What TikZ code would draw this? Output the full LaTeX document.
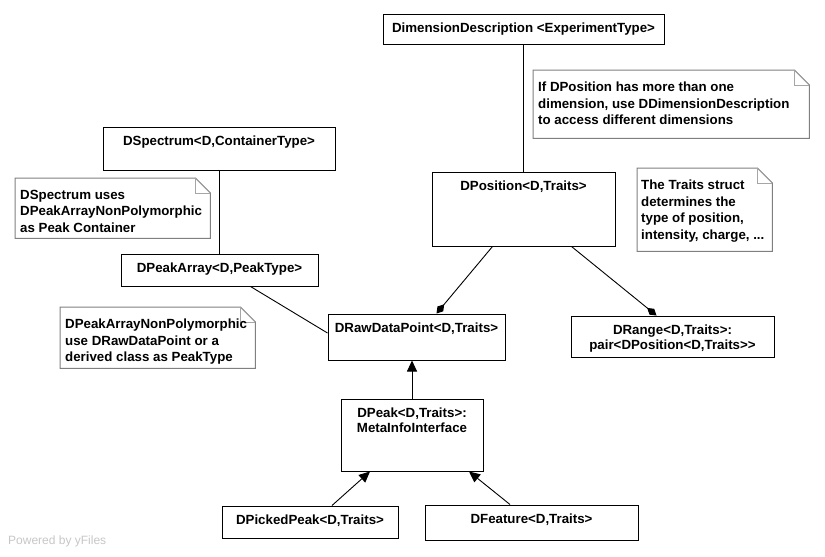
\documentclass[tikz,border=0pt]{standalone}
\usepackage{fontspec}
\setmainfont{Liberation Sans}
\usetikzlibrary{arrows.meta,calc}
\begin{document}
\begin{tikzpicture}[x=1pt,y=-1pt,
  box/.style={draw=black, line width=1pt, fill=white, inner sep=0pt},
  btxt/.style={anchor=north, inner sep=0pt, yshift=-9pt, align=center, font=\fontsize{13.3}{15}\selectfont\bfseries},
  nbox/.style={inner sep=0pt, anchor=north west},
  ntxt/.style={anchor=north west, inner sep=0pt, xshift=5pt, yshift=-12pt, align=left, font=\fontsize{13.3}{16.5}\selectfont\bfseries},
  nline/.style={draw=black!50, line width=1pt},
  nfold/.style={draw=black!35, line width=0.8pt},
  plain/.style={draw=black, line width=0.9pt},
  agg/.style={plain, -{Diamond[length=12pt,width=7.5pt]}},
  inh/.style={plain, -{Triangle[length=11pt,width=10pt]}},
]
\useasboundingbox (0,0) rectangle (825,557);
\fill[white] (0,0) rectangle (825,557);

% class boxes
\node[box, minimum width=281, minimum height=30, label={[btxt]north:{DimensionDescription <ExperimentType>}}] (dimdesc) at (523.5,29) {};
\node[box, minimum width=232, minimum height=43, label={[btxt]north:{DSpectrum<D,ContainerType>}}] (dspec) at (219,148.5) {};
\node[box, minimum width=183, minimum height=74, label={[btxt]north:{DPosition<D,Traits>}}] (dpos) at (523.5,209) {};
\node[box, minimum width=197, minimum height=32, label={[btxt]north:{DPeakArray<D,PeakType>}}] (dpeakarr) at (219.5,270) {};
\node[box, minimum width=177, minimum height=46, label={[btxt]north:{DRawDataPoint<D,Traits>}}] (drawdata) at (416.5,337) {};
\node[box, minimum width=203, minimum height=41, label={[btxt]north:{DRange<D,Traits>:\\pair<DPosition<D,Traits>{}>}}] (drange) at (672.5,336.5) {};
\node[box, minimum width=142, minimum height=72, label={[btxt]north:{DPeak<D,Traits>:\\MetaInfoInterface}}] (dpeak) at (412,435) {};
\node[box, minimum width=176, minimum height=32, label={[btxt]north:{DPickedPeak<D,Traits>}}] (dpicked) at (310,522) {};
\node[box, minimum width=213, minimum height=35, label={[btxt]north:{DFeature<D,Traits>}}] (dfeature) at (531.5,522.5) {};

% notes
\node[nbox, minimum width=276, minimum height=68] (n1) at (533,70) {};
\node[nbox, minimum width=195, minimum height=60] (n3) at (15,178) {};
\node[nbox, minimum width=135, minimum height=83] (n4) at (637,168) {};
\node[nbox, minimum width=195, minimum height=61] (n5) at (60,307) {};
\foreach \n in {n1,n3,n4,n5}{
  \draw[nline, fill=white] (\n.north west) -- ($(\n.north east)+(-15,0)$) -- ($(\n.north east)+(0,15)$) -- (\n.south east) -- (\n.south west) -- cycle;
  \draw[nfold] ($(\n.north east)+(-15,0)$) -- ++(0,15) -- ++(15,0);
  \draw[nfold] ($(\n.north east)+(-15,0)$) -- ($(\n.north east)+(0,15)$);
}
\node[ntxt] (t1) at (n1.north west) {If DPosition has more than one\\dimension, use DDimensionDescription\\to access different dimensions};
\node[ntxt] (t3) at (n3.north west) {DSpectrum uses\\DPeakArrayNonPolymorphic\\as Peak Container};
\node[ntxt, xshift=-1pt] (t4) at (n4.north west) {The Traits struct\\determines the\\type of position,\\intensity, charge, ...};
\node[ntxt] (t5) at (n5.north west) {DPeakArrayNonPolymorphic\\use DRawDataPoint or a\\derived class as PeakType};

% connectors
\draw[plain] (dimdesc) -- (dpos);
\draw[plain] (dspec.south) -- (dspec.south |- dpeakarr.north);
\draw[plain] ($(dpeakarr.south)+(31,0)$) -- ($(drawdata.west)+(0,-4)$);
\draw[agg] ($(dpos.south)+(-31,0)$) -- ($(drawdata.north)+(20,0)$);
\draw[agg] ($(dpos.south)+(48,0)$) -- ($(drange.north)+(-16,0)$);
\draw[inh] (dpeak.north) -- (dpeak.north |- drawdata.south);
\draw[inh] ($(dpicked.north)+(22,0)$) -- ($(dpeak.south)+(-42,0)$);
\draw[inh] ($(dfeature.north)+(-21.5,0)$) -- ($(dpeak.south)+(57,0)$);

% watermark
\node[anchor=west, text=black!22, font=\fontsize{12}{14}\selectfont, inner sep=0pt] (wm) at (8,541) {Powered by yFiles};
\end{tikzpicture}
\end{document}
